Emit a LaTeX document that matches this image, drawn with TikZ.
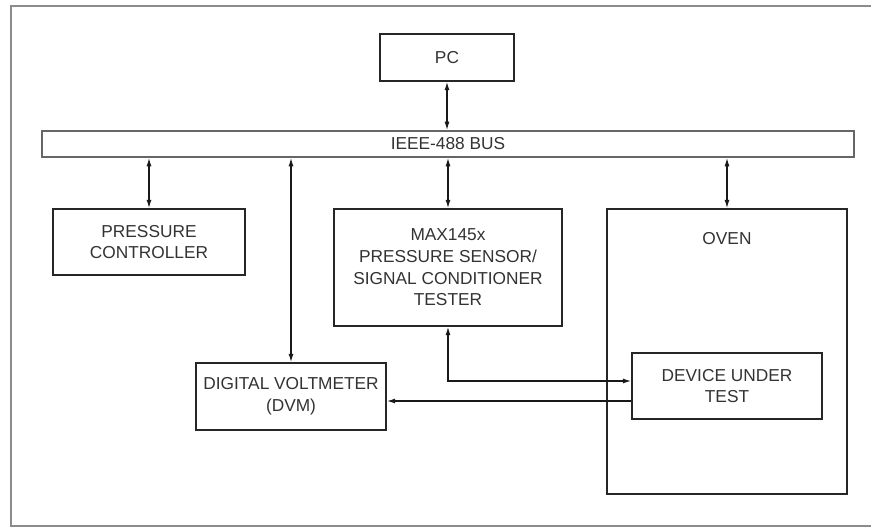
\documentclass[tikz,border=0pt]{standalone}
\usepackage{fontspec}
\setmainfont{Liberation Sans}
\usetikzlibrary{arrows.meta,calc}
\begin{document}
\begin{tikzpicture}[x=1pt,y=-1pt,
  box/.style={draw=black!85,line width=1.4pt,minimum width=#1,inner sep=0pt,align=center,
    text=black!80,font=\fontsize{17.3}{21.6}\selectfont},
  lbl/.style={inner sep=0pt,align=center,text=black!80,font=\fontsize{17.3}{21.6}\selectfont},
  conn/.style={draw=black!90,line width=1.3pt},
  tip/.style={-{Latex[length=8.5pt,width=5pt]}},
  both/.style={{Latex[length=8.5pt,width=5pt]}-{Latex[length=8.5pt,width=5pt]}}]
\useasboundingbox (0,0) rectangle (871,527);
\fill[white] (0,0) rectangle (871,527);
% outer frame (open at right, clipped)
\draw[black!45,line width=1.8pt] (871,6) -- (11,6) -- (11,526) -- (871,526);

\node[box=134pt,minimum height=47pt] (pc) at (447,57.5) {PC};
\node[box=812pt,minimum height=26pt,draw=black!60,line width=1.6pt] (bus) at (448,144) {IEEE-488 BUS};
\node[box=192pt,minimum height=66pt] (pctl) at (149,242) {PRESSURE\\CONTROLLER};
\node[box=228pt,minimum height=117pt] (max) at (448,267.5) {MAX145x\\PRESSURE SENSOR/\\SIGNAL CONDITIONER\\TESTER};
\node[box=240pt,minimum height=285pt] (oven) at (727,351.5) {};
\node[lbl] (ovenlbl) at (727,238.5) {OVEN};
\node[box=190pt,minimum height=66pt] (dut) at (727,386) {DEVICE UNDER\\TEST};
\node[box=190pt,minimum height=67pt] (dvm) at (291,396.5) {DIGITAL VOLTMETER\\(DVM)};

\draw[conn,both] (pc.south) -- (bus.north -| pc.south);
\draw[conn,both] (bus.south -| pctl.north) -- (pctl.north);
\draw[conn,both] (bus.south -| dvm.north) -- (dvm.north);
\draw[conn,both] (bus.south -| max.north) -- (max.north);
\draw[conn,both] (bus.south -| oven.north) -- (oven.north);
\draw[conn,both] (max.south) |- ([yshift=5pt]dut.west);
\draw[conn,tip] ([yshift=-15pt]dut.west) -- ([yshift=-15pt]dut.west -| dvm.east);
\end{tikzpicture}
\end{document}
